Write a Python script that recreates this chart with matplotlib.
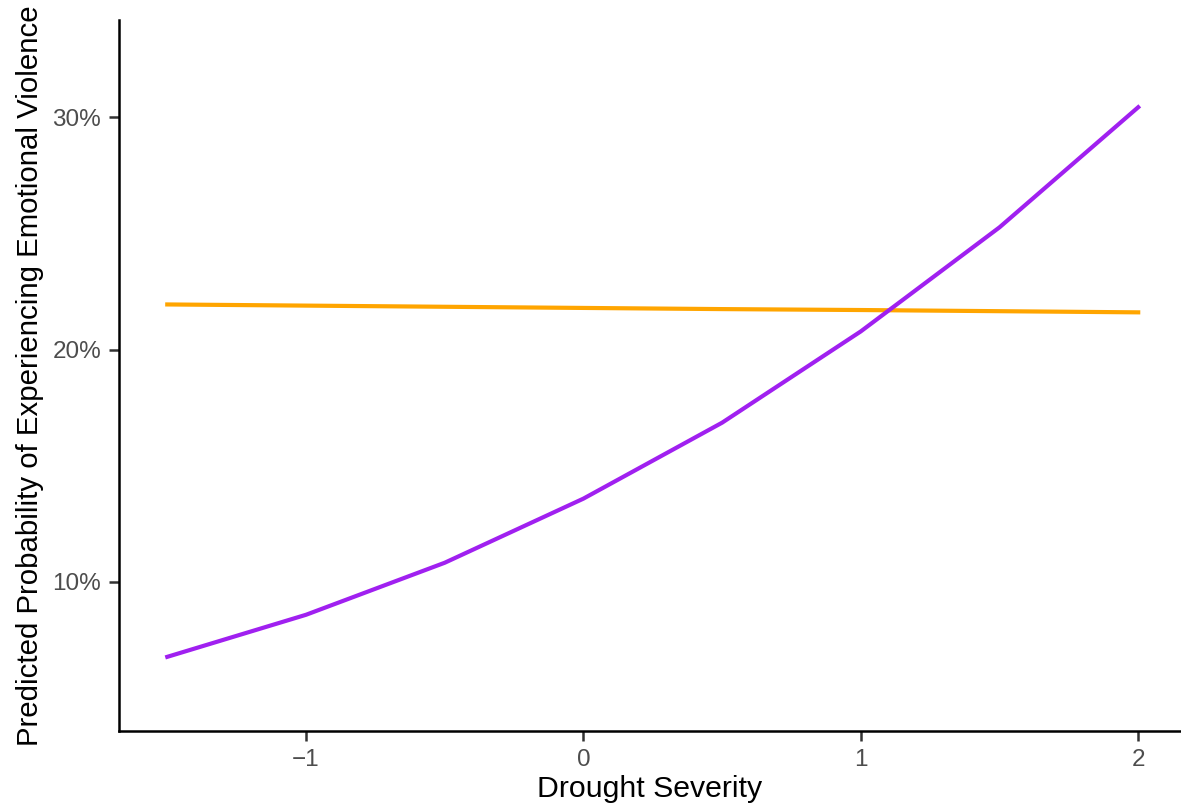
import numpy as np
import matplotlib
matplotlib.use('Agg')
import matplotlib.pyplot as plt
from matplotlib.ticker import FuncFormatter

# predicted probabilities (%)
drought = [-1.5, -1.0, -0.5, 0.0, 0.5, 1.0, 1.5, 2.0]
prob_purple = [6.77, 8.58, 10.82, 13.58, 16.85, 20.78, 25.26, 30.43]
prob_orange = [21.94, 21.89, 21.84, 21.79, 21.74, 21.70, 21.65, 21.60]

plt.rcParams['font.family'] = ['Liberation Sans', 'DejaVu Sans']

fig = plt.figure(figsize=(11.81, 8.05), dpi=100)
ax = fig.add_axes([0.101, 0.092, 0.898, 0.883])

ax.plot(drought, prob_orange, color='#FFA500', lw=3)
ax.plot(drought, prob_purple, color='#A020F0', lw=3)

ax.set_xlim(-1.673, 2.15)
ax.set_ylim(3.58, 34.18)
ax.set_xticks([-1, 0, 1, 2])
ax.set_yticks([10, 20, 30])
ax.xaxis.set_major_formatter(FuncFormatter(lambda v, p: '\u2212%d' % -v if v < 0 else '%d' % v))
ax.yaxis.set_major_formatter(FuncFormatter(lambda v, p: '%d%%' % v))

for s in ['top', 'right']:
    ax.spines[s].set_visible(False)
for s in ['left', 'bottom']:
    ax.spines[s].set_linewidth(1.8)
ax.tick_params(length=7, width=1.8, color='#333333', labelsize=17.5, labelcolor='#4D4D4D', pad=6)

ax.set_xlabel('Drought Severity', fontsize=21.8, labelpad=3)
ax.set_ylabel('Predicted Probability of Experiencing Emotional Violence', fontsize=21.2, labelpad=6)

fig.savefig('out.png', dpi=100)
